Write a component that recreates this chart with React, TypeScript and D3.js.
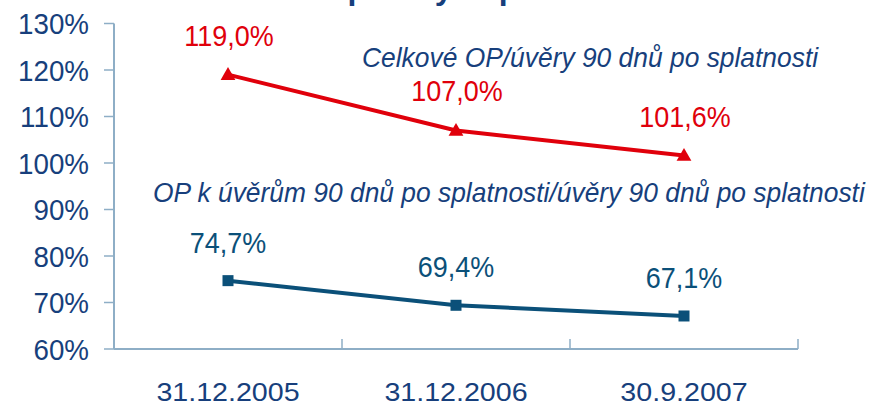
import React from "react";
import * as d3 from "d3";

const categories = ["31.12.2005", "31.12.2006", "30.9.2007"];
const totalCoverage = [119.0, 107.0, 101.6];
const overdueCoverage = [74.7, 69.4, 67.1];
const yTicks = [60, 70, 80, 90, 100, 110, 120, 130];
const totalLabel = "Celkové OP/úvěry 90 dnů po splatnosti";
const overdueLabel = "OP k úvěrům 90 dnů po splatnosti/úvěry 90 dnů po splatnosti";
const titleText = "opravnými položkami";

const W = 870;
const H = 406;
const FONT = "Arial, 'Liberation Sans', sans-serif";
const RED = "#e0000b";
const BLUE = "#0b5079";
const NAVY = "#173f7c";
const AXIS = "#8eaec6";

const fmt = (v: number) => v.toFixed(1).replace(".", ",") + "%";

function SText(props: {
  x: number;
  y: number;
  sx: number;
  size: number;
  fill: string;
  anchor?: string;
  italic?: boolean;
  children: React.ReactNode;
}) {
  return (
    <text
      transform={`translate(${props.x},${props.y}) scale(${props.sx},1)`}
      textAnchor={props.anchor || "start"}
      fontSize={props.size}
      fontStyle={props.italic ? "italic" : "normal"}
      fill={props.fill}
    >
      {props.children}
    </text>
  );
}

export default function App() {
  const x = d3.scaleBand<string>().domain(categories).range([114, 798]).padding(0);
  const y = d3.scaleLinear().domain([60, 130]).range([349, 23.5]);
  const cx = (c: string) => (x(c) as number) + x.bandwidth() / 2;

  const line = d3
    .line<number>()
    .x((_, i) => cx(categories[i]))
    .y((v) => y(v));

  const tri = d3.symbol().type(d3.symbolTriangle).size(95)();

  const xTickPos = [...categories.map((c) => x(c) as number), 798];

  return (
    <svg
      width={W}
      height={H}
      style={{ position: "absolute", left: 0, top: 0, background: "#fff" }}
      fontFamily={FONT}
    >
      <text x={328} y={-1} fontSize={32} fontWeight="bold" fill={NAVY}>
        {titleText}
      </text>

      {/* y axis */}
      <line x1={114} x2={114} y1={y(130)} y2={y(60)} stroke={AXIS} strokeWidth={2} />
      {yTicks.map((t) => (
        <g key={t}>
          <line x1={104} x2={114} y1={y(t)} y2={y(t)} stroke={AXIS} strokeWidth={1.5} />
          <SText x={89} y={y(t) + 10.8} sx={0.925} size={30} anchor="end" fill={NAVY}>
            {t}%
          </SText>
        </g>
      ))}

      {/* x axis */}
      <line x1={114} x2={798} y1={y(60)} y2={y(60)} stroke={AXIS} strokeWidth={2} />
      {xTickPos.map((p, i) => (
        <line key={i} x1={p} x2={p} y1={y(60)} y2={y(60) - 10} stroke={AXIS} strokeWidth={1.5} />
      ))}
      {categories.map((c) => (
        <SText key={c} x={cx(c)} y={401} sx={1.08} size={26.5} anchor="middle" fill={NAVY}>
          {c}
        </SText>
      ))}

      {/* series: total */}
      <path d={line(totalCoverage) || ""} fill="none" stroke={RED} strokeWidth={4} />
      {totalCoverage.map((v, i) => (
        <g key={i}>
          <path d={tri} transform={`translate(${cx(categories[i])},${y(v) + 1})`} fill={RED} />
          <SText x={cx(categories[i]) + 1} y={y(v) - 29} sx={0.93} size={29} anchor="middle" fill={RED}>
            {fmt(v)}
          </SText>
        </g>
      ))}

      {/* series: overdue */}
      <path d={line(overdueCoverage) || ""} fill="none" stroke={BLUE} strokeWidth={4} />
      {overdueCoverage.map((v, i) => (
        <g key={i}>
          <rect
            x={cx(categories[i]) - 5.5}
            y={y(v) - 5.5}
            width={11}
            height={11}
            fill={BLUE}
          />
          <SText x={cx(categories[i])} y={y(v) - 28} sx={0.93} size={29} anchor="middle" fill={BLUE}>
            {fmt(v)}
          </SText>
        </g>
      ))}

      {/* annotations */}
      <SText x={362} y={67} sx={0.96} size={27.5} italic fill={NAVY}>
        {totalLabel}
      </SText>
      <SText x={153} y={202} sx={0.96} size={27.5} italic fill={NAVY}>
        {overdueLabel}
      </SText>
    </svg>
  );
}
